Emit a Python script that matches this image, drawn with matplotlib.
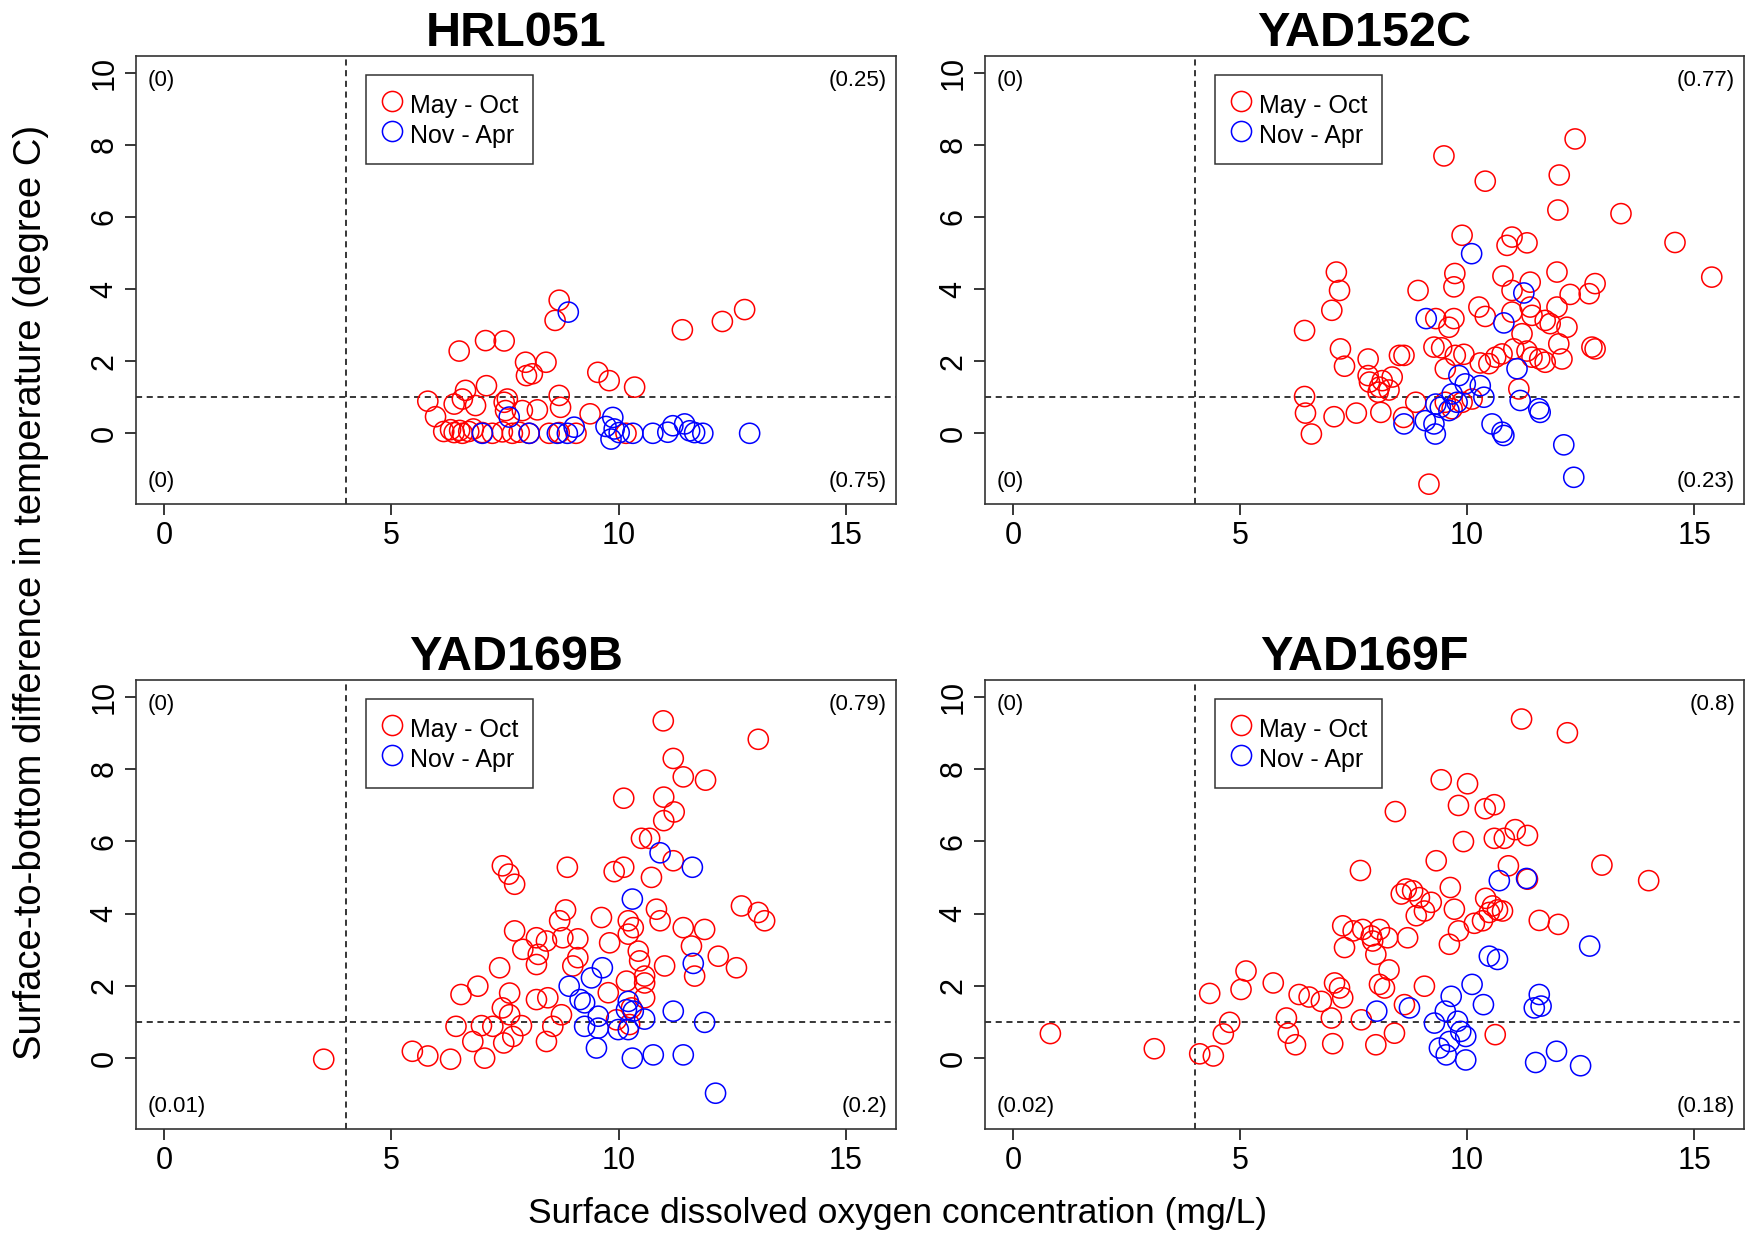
import matplotlib
matplotlib.use("Agg")
import matplotlib.pyplot as plt
from matplotlib.lines import Line2D

plt.rcParams['font.family'] = ['Liberation Sans', 'DejaVu Sans']

# ---------------- data ----------------
stations = ["HRL051", "YAD152C", "YAD169B", "YAD169F"]

hrl051_summer_x = [6.49, 7.07, 7.48, 7.95, 8.4, 7.97, 8.1, 8.69, 8.6, 9.54, 9.79, 10.35, 11.4, 12.28, 12.77,
                   5.8, 5.97, 6.38, 6.63, 6.56, 6.85, 7.09, 7.48, 7.51, 7.55, 8.69, 8.72, 8.21, 7.88, 9.37,
                   6.15, 6.3, 6.38, 6.5, 6.56, 6.7, 6.8, 7.0, 7.22, 7.44, 7.66, 7.81, 8.03, 8.47, 8.69, 9.06, 10.16]
hrl051_summer_y = [2.28, 2.57, 2.56, 1.97, 1.97, 1.6, 1.65, 3.69, 3.13, 1.69, 1.46, 1.28, 2.87, 3.1, 3.43,
                   0.89, 0.46, 0.81, 1.19, 0.95, 0.77, 1.32, 0.86, 0.63, 0.95, 1.05, 0.72, 0.65, 0.63, 0.54,
                   0.05, 0.1, 0.02, 0.08, 0.0, 0.05, 0.12, 0.02, 0.0, 0.04, 0.0, 0.03, 0.0, 0.0, 0.02, 0.0, 0.0]
hrl051_winter_x = [7.0, 7.59, 8.03, 8.65, 8.87, 9.02, 8.89, 9.87, 9.72, 9.9, 9.83, 10.01, 10.31, 10.75,
                   11.08, 11.19, 11.45, 11.56, 11.67, 11.85, 12.88]
hrl051_winter_y = [0.0, 0.45, 0.0, 0.0, 0.0, 0.17, 3.36, 0.44, 0.19, 0.12, -0.16, 0.02, 0.0, 0.0,
                   0.03, 0.21, 0.26, 0.07, 0.02, 0.0, 0.0]

yad152c_summer_x = [7.12, 7.19, 7.02, 6.42, 7.21, 7.3, 7.82, 7.82, 7.85, 8.07, 8.28, 8.13, 8.35, 8.51, 6.42,
                    6.44, 6.57, 7.07, 7.56, 8.1, 8.04,
                    12.38, 9.49, 10.4, 12.03, 12.0, 13.39, 14.58, 15.39, 9.89, 10.99, 10.88, 11.32, 9.73,
                    9.71, 8.92, 10.79, 11.39, 11.98, 12.82, 12.69, 12.27, 10.99, 10.26, 10.4, 9.71, 9.6,
                    9.31, 10.99, 11.39, 11.43, 11.72, 11.98, 11.83, 12.2, 11.21, 12.02, 12.75, 12.82, 9.27,
                    9.44, 9.74, 9.93, 10.29, 10.48, 10.63, 10.77, 11.03, 11.32, 11.43, 11.6, 11.72, 12.09,
                    9.52, 8.61, 8.87, 8.6, 9.52, 9.67, 9.89, 10.11, 11.14, 9.16]
yad152c_summer_y = [4.47, 3.96, 3.41, 2.85, 2.34, 1.86, 2.06, 1.6, 1.42, 1.28, 1.2, 1.46, 1.56, 2.16, 1.02,
                    0.56, -0.02, 0.46, 0.56, 0.58, 1.14,
                    8.16, 7.69, 6.99, 7.16, 6.19, 6.09, 5.29, 4.33, 5.49, 5.44, 5.21, 5.28, 4.43,
                    4.06, 3.96, 4.36, 4.19, 4.47, 4.15, 3.87, 3.85, 3.96, 3.5, 3.24, 3.18, 2.94,
                    3.18, 3.36, 3.5, 3.27, 3.13, 3.5, 3.04, 2.94, 2.76, 2.48, 2.39, 2.34, 2.39,
                    2.37, 2.16, 2.19, 1.95, 1.93, 2.11, 2.2, 2.34, 2.28, 2.11, 2.06, 1.97, 2.06,
                    1.79, 2.16, 0.86, 0.44, 0.86, 0.68, 0.86, 0.95, 1.23, -1.41]
yad152c_winter_x = [10.1, 11.25, 9.1, 10.81, 11.1, 9.82, 9.96, 10.29, 10.37, 9.67, 9.31, 9.41, 9.6, 9.78,
                    9.08, 8.61, 9.27, 9.3, 10.55, 10.77, 10.81, 11.17, 11.58, 11.61, 12.13, 12.35]
yad152c_winter_y = [4.98, 3.89, 3.18, 3.06, 1.79, 1.6, 1.37, 1.32, 1.0, 1.09, 0.81, 0.72, 0.63, 0.86,
                    0.35, 0.26, 0.26, -0.02, 0.26, 0.03, -0.06, 0.91, 0.68, 0.58, -0.32, -1.22]

yad169b_summer_x = [3.51, 5.46, 5.8, 6.3, 7.05, 6.79, 6.42, 6.98, 7.23, 7.47, 7.67, 7.86, 7.6, 7.44, 7.6,
                    6.53, 6.9, 7.38, 7.71, 7.89, 7.44, 7.58, 7.71,
                    10.98, 13.07, 11.2, 11.42, 11.91, 10.11, 10.99, 11.22, 10.99, 10.5, 10.68, 11.2, 10.72,
                    8.87, 9.9, 10.11, 8.83, 8.7, 9.62, 10.21, 10.32, 10.21, 10.83, 10.91, 12.7, 13.07,
                    13.21, 11.42, 11.89, 11.6, 12.19, 12.59, 8.19, 8.41, 8.23, 8.19, 8.77, 9.1, 9.8, 9.1,
                    8.99, 10.43, 10.46, 11.01, 11.67, 10.17, 10.57, 10.57, 9.77, 10.28, 10.57, 8.19, 8.44,
                    8.74, 8.55, 8.41, 9.95, 10.24]
yad169b_summer_y = [-0.03, 0.19, 0.06, -0.03, 0.0, 0.46, 0.88, 0.9, 0.88, 0.42, 0.6, 0.9, 1.2, 1.39, 1.8,
                    1.76, 1.99, 2.5, 3.52, 3.01, 5.32, 5.09, 4.81,
                    9.33, 8.82, 8.29, 7.78, 7.69, 7.19, 7.22, 6.81, 6.57, 6.08, 6.08, 5.46, 5.0,
                    5.28, 5.16, 5.28, 4.1, 3.8, 3.89, 3.8, 3.61, 3.43, 4.12, 3.8, 4.21, 4.03,
                    3.8, 3.61, 3.56, 3.1, 2.82, 2.5, 3.33, 3.24, 2.87, 2.59, 3.33, 3.3, 3.19, 2.78,
                    2.55, 2.96, 2.69, 2.55, 2.27, 2.13, 2.27, 2.08, 1.81, 1.39, 1.67, 1.62, 1.67,
                    1.2, 0.88, 0.46, 1.06, 0.93]
yad169b_winter_x = [10.91, 11.62, 10.3, 11.64, 9.64, 9.4, 8.91, 9.25, 9.15, 9.55, 10.21, 10.17, 10.32, 11.2,
                    9.25, 9.55, 9.99, 10.21, 10.57, 11.89, 9.51, 10.3, 10.76, 11.42, 12.13]
yad169b_winter_y = [5.68, 5.28, 4.4, 2.62, 2.5, 2.22, 1.99, 1.53, 1.62, 1.16, 1.57, 1.34, 1.3, 1.3,
                    0.88, 0.83, 0.79, 0.79, 1.08, 0.99, 0.28, 0.0, 0.09, 0.09, -0.97]

yad169f_summer_x = [0.82, 3.11, 4.11, 4.41, 4.33, 4.63, 4.77, 5.13, 5.02, 5.73, 6.3, 6.52, 6.79, 6.02, 6.06,
                    6.22, 7.01, 7.04, 7.08, 7.19, 7.26, 7.26, 7.3, 7.65,
                    11.2, 12.21, 9.43, 10.01, 8.42, 9.81, 10.4, 10.6, 9.92, 10.6, 10.82, 11.06, 11.33, 9.32,
                    10.91, 11.33, 12.97, 14.0, 8.66, 8.8, 8.55, 8.95, 9.21, 9.06, 8.88, 9.63, 9.72, 10.41,
                    10.56, 10.67, 10.78, 10.49, 10.34, 10.16, 9.81, 9.61, 11.59, 12.01, 7.49, 7.7, 7.89,
                    8.07, 8.25, 7.92, 8.69, 7.99, 8.28, 8.07, 8.18, 9.06, 8.62, 7.67, 7.99, 8.4, 10.62]
yad169f_summer_y = [0.68, 0.26, 0.12, 0.06, 1.79, 0.67, 0.99, 2.41, 1.9, 2.08, 1.76, 1.69, 1.57, 1.11, 0.69,
                    0.37, 1.11, 0.4, 2.08, 1.94, 1.67, 3.66, 3.06, 5.19,
                    9.38, 9.0, 7.7, 7.59, 6.82, 6.99, 6.9, 7.01, 5.99, 6.08, 6.08, 6.32, 6.16, 5.46,
                    5.32, 4.95, 5.34, 4.91, 4.68, 4.63, 4.54, 4.44, 4.31, 4.07, 3.94, 4.72, 4.12, 4.42,
                    4.21, 4.1, 4.07, 4.03, 3.8, 3.73, 3.52, 3.15, 3.81, 3.7, 3.52, 3.56, 3.38,
                    3.56, 3.33, 3.24, 3.33, 2.87, 2.44, 2.04, 1.94, 1.99, 1.48, 1.06, 0.37, 0.69, 0.65]
yad169f_winter_x = [10.71, 11.31, 12.7, 10.49, 10.67, 10.11, 9.65, 10.36, 11.59, 11.63, 11.48, 9.52, 8.73,
                    8.01, 9.28, 9.79, 9.86, 9.97, 9.61, 9.39, 9.54, 9.97, 11.51, 11.97, 12.5]
yad169f_winter_y = [4.91, 4.97, 3.1, 2.82, 2.73, 2.04, 1.71, 1.48, 1.76, 1.44, 1.39, 1.3, 1.39,
                    1.3, 0.97, 1.02, 0.74, 0.6, 0.46, 0.28, 0.09, -0.05, -0.12, 0.19, -0.21]

corner_top_left = ["(0)", "(0)", "(0)", "(0)"]
corner_top_right = ["(0.25)", "(0.77)", "(0.79)", "(0.8)"]
corner_bottom_left = ["(0)", "(0)", "(0.01)", "(0.02)"]
corner_bottom_right = ["(0.75)", "(0.23)", "(0.2)", "(0.18)"]

season_labels = ["May - Oct", "Nov - Apr"]
season_colors = ["#FF0000", "#0000FF"]
x_ticks = [0, 5, 10, 15]
y_ticks = [0, 2, 4, 6, 8, 10]
do_threshold = 4
dt_threshold = 1

series = [
    (hrl051_summer_x, hrl051_summer_y, hrl051_winter_x, hrl051_winter_y),
    (yad152c_summer_x, yad152c_summer_y, yad152c_winter_x, yad152c_winter_y),
    (yad169b_summer_x, yad169b_summer_y, yad169b_winter_x, yad169b_winter_y),
    (yad169f_summer_x, yad169f_summer_y, yad169f_winter_x, yad169f_winter_y),
]

# ---------------- figure ----------------
W, H = 1749, 1237
fig = plt.figure(figsize=(W / 100, H / 100), dpi=100)

# axes boxes in pixels: left, top, right, bottom
boxes = [(136, 56, 896, 504), (985, 56, 1744, 504),
         (136, 680, 896, 1129), (985, 680, 1744, 1129)]

ms = 14.5
for i, (l, t, r, b) in enumerate(boxes):
    ax = fig.add_axes([l / W, 1 - b / H, (r - l) / W, (b - t) / H])
    sx, sy, wx, wy = series[i]
    ax.scatter(sx, sy, s=ms ** 2, facecolors='none', edgecolors=season_colors[0], linewidths=1.1, zorder=3)
    ax.scatter(wx, wy, s=ms ** 2, facecolors='none', edgecolors=season_colors[1], linewidths=1.1, zorder=4)
    ax.axvline(do_threshold, color='black', ls=(0, (4, 3)), lw=1.1, zorder=2)
    ax.axhline(dt_threshold, color='black', ls=(0, (4, 3)), lw=1.1, zorder=2)
    ax.set_xlim(-0.62, 16.1)
    ax.set_ylim(-1.96, 10.46)
    ax.set_xticks(x_ticks)
    ax.set_yticks(y_ticks)
    ax.set_xticklabels([str(v) for v in x_ticks])
    ax.set_yticklabels([str(v) for v in y_ticks], rotation=90, va='center')
    ax.tick_params(axis='both', labelsize=22, length=8, width=1.1, pad=4, direction='out')
    for sp in ax.spines.values():
        sp.set_linewidth(1.2)
        sp.set_color('#333333')
    ax.set_title(stations[i], fontsize=35, fontweight='bold', pad=6)

    fs = 16
    ax.text(0.015, 0.945, corner_top_left[i], transform=ax.transAxes, fontsize=fs, ha='left', va='center')
    ax.text(0.988, 0.945, corner_top_right[i], transform=ax.transAxes, fontsize=fs, ha='right', va='center')
    ax.text(0.015, 0.05, corner_bottom_left[i], transform=ax.transAxes, fontsize=fs, ha='left', va='center')
    ax.text(0.988, 0.05, corner_bottom_right[i], transform=ax.transAxes, fontsize=fs, ha='right', va='center')

    handles = [Line2D([], [], marker='o', ls='none', markersize=ms, markerfacecolor='none',
                      markeredgecolor=c, markeredgewidth=1.1) for c in season_colors]
    leg = ax.legend(handles, season_labels, loc='upper left', bbox_to_anchor=(0.303, 0.958),
                    fontsize=18, frameon=True, fancybox=False, borderpad=0.6,
                    handletextpad=0.3, labelspacing=0.0, handlelength=0.85, handleheight=1.45,
                    borderaxespad=0)
    leg.get_frame().set_edgecolor('black')
    leg.get_frame().set_linewidth(1.1)
    leg.set_zorder(5)

fig.text(0.018, 0.521, "Surface-to-bottom difference in temperature (degree C)", rotation=90,
         ha='center', va='center', fontsize=27.5)
fig.text(0.513, 0.019, "Surface dissolved oxygen concentration (mg/L)", ha='center', va='center', fontsize=25.5)

fig.savefig("out.png", dpi=100)
